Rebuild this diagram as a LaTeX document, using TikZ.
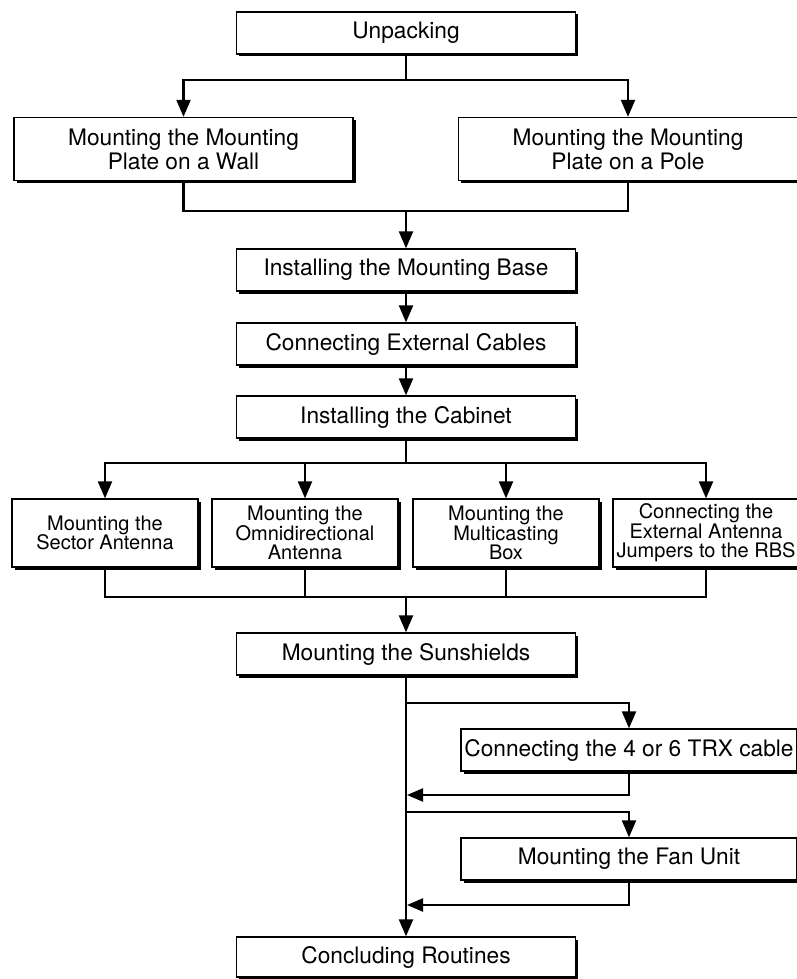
\documentclass[tikz,border=0pt]{standalone}
\usepackage{fontspec}
\setmainfont{TeX Gyre Heros}
\usetikzlibrary{arrows.meta,shadows}

\begin{document}
\begin{tikzpicture}[x=1pt, y=-1pt,
	box/.style={draw, fill=white, line width=1.3pt, align=center, inner sep=2pt,
		drop shadow={shadow xshift=2.5pt, shadow yshift=-2.5pt, fill=black, opacity=1},
		font=\fontsize{22.7}{24}\selectfont},
	stepbox/.style={box, minimum width=339pt, minimum height=42pt},
	halfbox/.style={box, minimum width=339pt, minimum height=63pt},
	quarterbox/.style={box, minimum width=186pt, minimum height=68pt, font=\fontsize{20}{19.5}\selectfont},
	sidebox/.style={box, minimum width=336pt, minimum height=42pt},
	line/.style={line width=2.2pt},
	arr/.style={line width=2.2pt, -{Triangle[length=17pt, width=14pt]}},
	backarr/.style={line width=2.2pt, -{Triangle[length=16pt, width=13pt]}}]
	\useasboundingbox (0,0) rectangle (797,979);

	\node[stepbox]		(unpack)	at (406,33)		{Unpacking};
	\node[halfbox]		(wall)		at (183.5,149)	{Mounting the Mounting\\Plate on a Wall};
	\node[halfbox]		(pole)		at (628,149)	{Mounting the Mounting\\Plate on a Pole};
	\node[stepbox]		(base)		at (406,270)	{Installing the Mounting Base};
	\node[stepbox]		(cables)	at (406,344)	{Connecting External Cables};
	\node[stepbox]		(cabinet)	at (406,417)	{Installing the Cabinet};
	\node[quarterbox]	(sector)	at (105,533)	{Mounting the\\Sector Antenna};
	\node[quarterbox]	(omni)		at (305,533)	{Mounting the\\Omnidirectional\\Antenna};
	\node[quarterbox]	(multi)		at (506,533)	{Mounting the\\Multicasting\\Box};
	\node[quarterbox]	(jumpers)	at (706,533)	{Connecting the\\External Antenna\\Jumpers to the RBS};
	\node[stepbox]		(sun)		at (406,654)	{Mounting the Sunshields};
	\node[sidebox]		(trx)		at (629,750)	{Connecting the 4 or 6 TRX cable};
	\node[sidebox]		(fan)		at (629,859)	{Mounting the Fan Unit};
	\node[stepbox, minimum height=40pt]	(concl)	at (406,957)	{Concluding Routines};

	\coordinate (split1) at (406,80);
	\coordinate (join1)  at (406,211);
	\coordinate (split2) at (406,463);
	\coordinate (join2)  at (406,597);
	\coordinate (split3) at (406,703);
	\coordinate (back1)  at (407,795);
	\coordinate (split4) at (406,812);
	\coordinate (back2)  at (407,905);

	% wall or pole
	\draw[line] (unpack) -- (split1);
	\draw[arr] (split1) -| (wall);
	\draw[arr] (split1) -| (pole);
	\draw[line] (wall) |- (join1);
	\draw[line] (pole) |- (join1);
	\draw[arr] (join1) -- (base);
	\draw[arr] (base) -- (cables);
	\draw[arr] (cables) -- (cabinet);

	% antennas
	\draw[line] (cabinet) -- (split2);
	\foreach \n in {sector, omni, multi, jumpers} {
		\draw[arr] (split2) -| (\n);
		\draw[line] (\n) |- (join2);
	}
	\draw[arr] (join2) -- (sun);

	% optional steps
	\draw[arr] (sun) -- (concl);
	\draw[arr] (split3) -| (trx);
	\draw[backarr] (trx) |- (back1);
	\draw[arr] (split4) -| (fan);
	\draw[backarr] (fan) |- (back2);
\end{tikzpicture}
\end{document}
